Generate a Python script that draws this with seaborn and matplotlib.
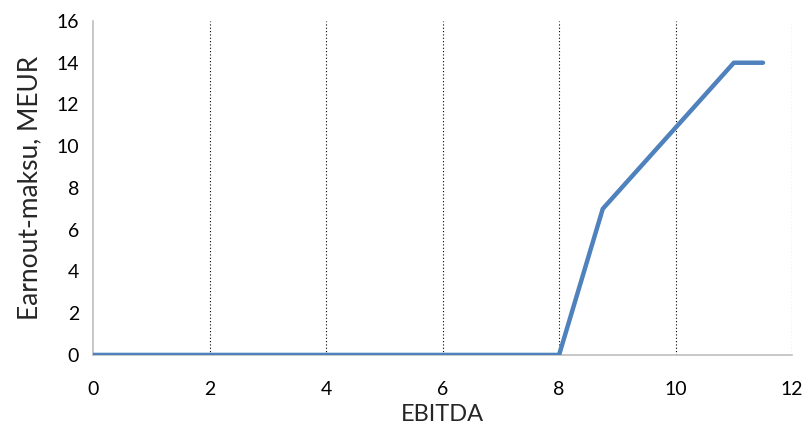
import matplotlib
matplotlib.use("Agg")
import matplotlib.pyplot as plt
import seaborn as sns
import pandas as pd

# data
ebitda = [0, 8, 8.75, 11, 11.5]
earnout = [0, 0, 7, 14, 14]
x_ticks = [0, 2, 4, 6, 8, 10, 12]
y_ticks = [0, 2, 4, 6, 8, 10, 12, 14, 16]

sns.set_style("white")
plt.rcParams['font.family'] = ['Lato', 'DejaVu Sans']

df = pd.DataFrame({"EBITDA": ebitda, "Earnout": earnout})

fig = plt.figure(figsize=(8.05, 4.42), dpi=100)
ax = fig.add_axes([0.1155, 0.197, 0.8685, 0.7555])

sns.lineplot(data=df, x="EBITDA", y="Earnout", ax=ax, color="#4F81BD",
             linewidth=3.2, solid_capstyle="round", zorder=3)

ax.set_xlim(0, 12)
ax.set_ylim(0, 16)
ax.set_xticks(x_ticks)
ax.set_yticks(y_ticks)
ax.tick_params(axis="both", length=0, labelsize=14, colors="black")
ax.tick_params(axis="x", pad=19)
ax.tick_params(axis="y", pad=10)

# vertical dotted gridlines only
for x in x_ticks[1:]:
    ax.axvline(x, color="black", linestyle=(0, (1, 2)), linewidth=0.8, zorder=1)

for side in ["top", "right"]:
    ax.spines[side].set_visible(False)
for side in ["left", "bottom"]:
    ax.spines[side].set_color("#BFBFBF")
    ax.spines[side].set_linewidth(1.2)

ax.set_xlabel("EBITDA", fontsize=17, labelpad=4)
ax.set_ylabel("Earnout-maksu, MEUR", fontsize=19, labelpad=10)

fig.savefig("out.png", dpi=100)
